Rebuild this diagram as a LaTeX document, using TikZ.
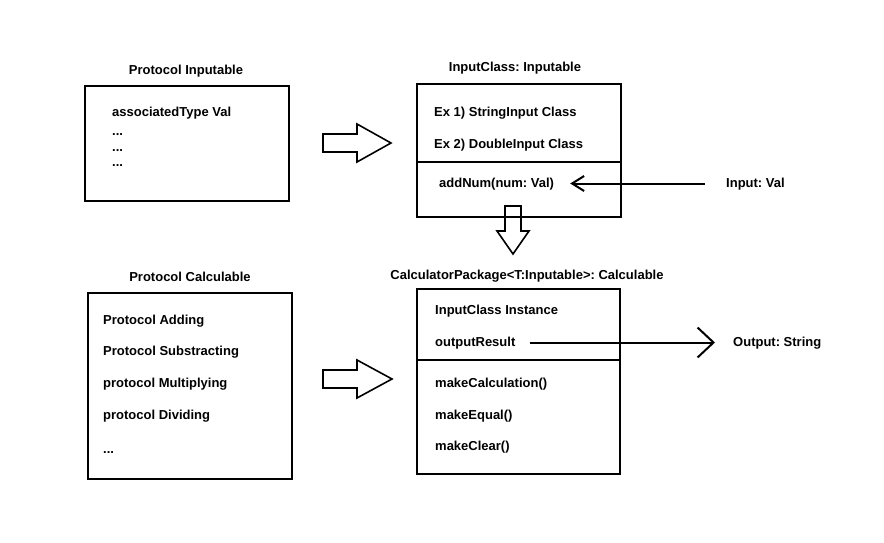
\documentclass[tikz,border=0pt]{standalone}
\usepackage{fontspec}
\setmainfont{Liberation Sans}
\usetikzlibrary{arrows.meta}
\frenchspacing

\tikzset{
  umlbox/.style={draw, line width=1.3pt, inner sep=0pt},
  entry/.style={anchor=west, inner sep=0pt, text height=10pt, text depth=3pt,
                font=\bfseries\fontsize{13}{15}\selectfont},
  heading/.style={entry, anchor=center},
  blockarrow/.style={draw, line width=1.6pt, line join=miter},
  dataline/.style={draw, line width=2pt},
}

\begin{document}
\begin{tikzpicture}[x=1pt, y=-1pt]
\useasboundingbox (0,0) rectangle (884,543);
% protocol inputable
\node[umlbox, minimum width=204pt, minimum height=115pt] (inputable) at (187,143.5) {};
\node[heading] (inputabletitle) at (186,71) {Protocol Inputable};
\node[entry] (assoc) at (112,113) {associatedType Val};
\node[entry] (dotsa) at (112,132) {...};
\node[entry] (dotsb) at (112,148) {...};
\node[entry] (dotsc) at (112,163) {...};
% input class
\node[umlbox, minimum width=204pt, minimum height=133pt] (inputclass) at (519,150.5) {};
\node[heading] (inputclasstitle) at (515,68) {InputClass: Inputable};
\node[entry] (exone) at (434,113) {Ex 1) StringInput Class};
\node[entry] (extwo) at (434,145) {Ex 2) DoubleInput Class};
\node[entry] (addnum) at (439,183.5) {addNum(num: Val)};
\draw[line width=1.3pt] (inputclass.west |- 0,162) -- (inputclass.east |- 0,162);
\node[entry] (inlbl) at (726,183.5) {Input: Val};
\draw[dataline, -{Straight Barb[length=12pt,width=15pt]}] ([xshift=-21pt]inlbl.west) -- ([xshift=16pt]addnum.east);
% protocol calculable
\node[umlbox, minimum width=204pt, minimum height=186pt] (calculable) at (190,386) {};
\node[heading] (calculabletitle) at (190,278) {Protocol Calculable};
\node[entry] (adding) at (103,321) {Protocol Adding};
\node[entry] (subtr) at (103,352) {Protocol Substracting};
\node[entry] (multi) at (103,384) {protocol Multiplying};
\node[entry] (divid) at (103,416) {protocol Dividing};
\node[entry] (dotsd) at (103,450) {...};
% calculator package
\node[umlbox, minimum width=203pt, minimum height=185pt] (calcpkg) at (518.5,381.5) {};
\node[heading] (calcpkgtitle) at (527,276) {CalculatorPackage<T:Inputable>: Calculable};
\node[entry] (instance) at (435,311) {InputClass Instance};
\node[entry] (outres) at (435,342.5) {outputResult};
\draw[line width=1.3pt] (calcpkg.west |- 0,360) -- (calcpkg.east |- 0,360);
\node[entry] (makecalc) at (435,384) {makeCalculation()};
\node[entry] (makeeq) at (435,416) {makeEqual()};
\node[entry] (makeclr) at (435,447) {makeClear()};
\node[entry] (outlbl) at (733,342.5) {Output: String};
\draw[dataline, -{Straight Barb[length=16pt,width=30pt]}] ([xshift=14pt]outres.east) -- ([xshift=-18pt]outlbl.west);
% block arrows
\draw[blockarrow] (323,134) -- ++(34,0) -- ++(0,-10) -- (391,143)
                  -- (357,162) -- ++(0,-10) -- ++(-34,0) -- cycle;
\draw[blockarrow] (323,370) -- ++(34,0) -- ++(0,-10) -- (392,379)
                  -- (357,398) -- ++(0,-10) -- ++(-34,0) -- cycle;
\draw[blockarrow] (505,206) -- ++(16,0) -- ++(0,25) -- ++(8,0)
                  -- (513,254) -- (497,231) -- ++(8,0) -- cycle;
\end{tikzpicture}
\end{document}
